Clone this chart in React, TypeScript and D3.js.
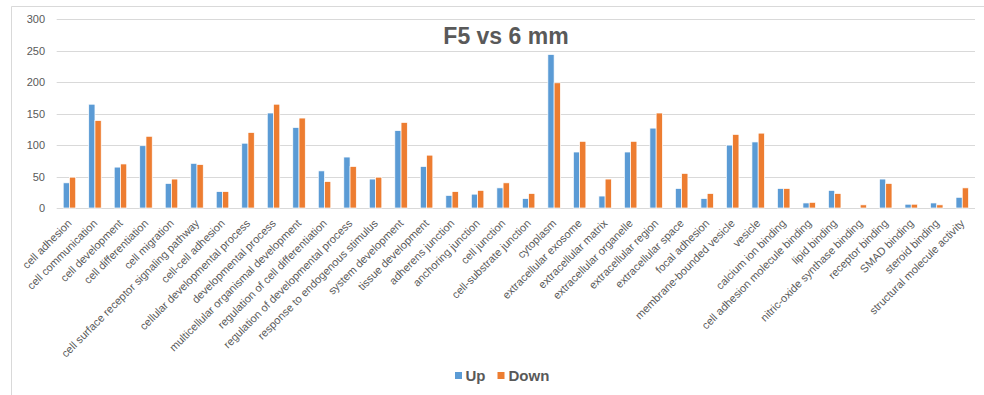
import React from "react";
import * as d3 from "d3";

// GO terms compared between F5 and 6 mm
const categories: string[] = [
  "cell adhesion",
  "cell communication",
  "cell development",
  "cell differentiation",
  "cell migration",
  "cell surface receptor signaling pathway",
  "cell-cell adhesion",
  "cellular developmental process",
  "developmental process",
  "multicellular organismal development",
  "regulation of cell differentiation",
  "regulation of developmental process",
  "response to endogenous stimulus",
  "system development",
  "tissue development",
  "adherens junction",
  "anchoring junction",
  "cell junction",
  "cell-substrate junction",
  "cytoplasm",
  "extracellular exosome",
  "extracellular matrix",
  "extracellular organelle",
  "extracellular region",
  "extracellular space",
  "focal adhesion",
  "membrane-bounded vesicle",
  "vesicle",
  "calcium ion binding",
  "cell adhesion molecule binding",
  "lipid binding",
  "nitric-oxide synthase binding",
  "receptor binding",
  "SMAD binding",
  "steroid binding",
  "structural molecule activity",
];

const upValues: number[] = [
  40, 165, 65, 99, 39, 71, 26, 103, 151, 128, 59, 81, 46, 123, 66, 20, 22, 32,
  15, 244, 89, 19, 89, 127, 31, 15, 100, 105, 31, 8, 28, 0, 46, 6, 8, 17,
];

const downValues: number[] = [
  49, 139, 70, 114, 46, 69, 26, 120, 165, 143, 42, 66, 49, 136, 84, 26, 28, 40,
  23, 199, 106, 46, 106, 151, 55, 23, 117, 119, 31, 9, 23, 5, 39, 6, 5, 32,
];

const yTicks: number[] = [0, 50, 100, 150, 200, 250, 300];

const seriesNames: string[] = ["Up", "Down"];
const seriesColors: string[] = ["#5B9BD5", "#ED7D31"];

const title = "F5 vs 6 mm";

const W = 984;
const H = 395;
const plot = { left: 56.7, right: 975, top: 19.3, bottom: 208 };
const FONT = "'Liberation Sans', Arial, sans-serif";
const TEXT = "#595959";
const GRID = "#D9D9D9";

export default function App() {
  const x = d3
    .scaleBand<string>()
    .domain(categories)
    .range([plot.left, plot.right])
    .paddingInner(0.51)
    .paddingOuter(0.255);

  const inner = d3
    .scaleBand<string>()
    .domain(seriesNames)
    .range([0, x.bandwidth()])
    .padding(0);

  const y = d3.scaleLinear().domain([0, 300]).range([plot.bottom, plot.top]);

  const series = [upValues, downValues];

  return (
    <svg
      width={W}
      height={H}
      style={{ position: "absolute", left: 0, top: 0, background: "#fff" }}
      fontFamily={FONT}
    >
      {/* chart frame */}
      <line x1={11.5} y1={6.5} x2={W} y2={6.5} stroke={GRID} strokeWidth={1} />
      <line x1={11.5} y1={6.5} x2={11.5} y2={H} stroke={GRID} strokeWidth={1} />

      {/* gridlines and y tick labels */}
      {yTicks.map((t) => (
        <g key={t}>
          <line
            x1={plot.left}
            x2={plot.right}
            y1={Math.round(y(t)) + 0.5}
            y2={Math.round(y(t)) + 0.5}
            stroke={GRID}
            strokeWidth={1}
          />
          <text
            x={45}
            y={y(t)}
            textAnchor="end"
            dominantBaseline="central"
            fontSize={11}
            fill={TEXT}
          >
            {t}
          </text>
        </g>
      ))}

      {/* bars */}
      {categories.map((c, i) => (
        <g key={c} transform={`translate(${x(c)},0)`}>
          {series.map((vals, s) => (
            <rect
              key={s}
              x={inner(seriesNames[s])}
              y={y(vals[i])}
              width={inner.bandwidth()}
              height={plot.bottom - y(vals[i])}
              fill={seriesColors[s]}
              stroke="#fff"
              strokeWidth={0.7}
            />
          ))}
        </g>
      ))}

      {/* category labels */}
      {categories.map((c) => {
        const cx = (x(c) as number) + x.bandwidth() / 2;
        return (
          <text
            key={c}
            transform={`translate(${cx + 3},${224}) rotate(-45)`}
            textAnchor="end"
            fontSize={11}
            fill={TEXT}
          >
            {c}
          </text>
        );
      })}

      {/* title */}
      <text
        x={506}
        y={44}
        textAnchor="middle"
        fontSize={23}
        fontWeight="bold"
        fill={TEXT}
      >
        {title}
      </text>

      {/* legend */}
      <g>
        <rect x={455} y={372} width={7} height={7} fill={seriesColors[0]} />
        <text x={465.5} y={380.5} fontSize={15} fontWeight="bold" fill={TEXT}>
          {seriesNames[0]}
        </text>
        <rect x={497.5} y={372} width={7} height={7} fill={seriesColors[1]} />
        <text x={508.5} y={380.5} fontSize={15} fontWeight="bold" fill={TEXT}>
          {seriesNames[1]}
        </text>
      </g>
    </svg>
  );
}
